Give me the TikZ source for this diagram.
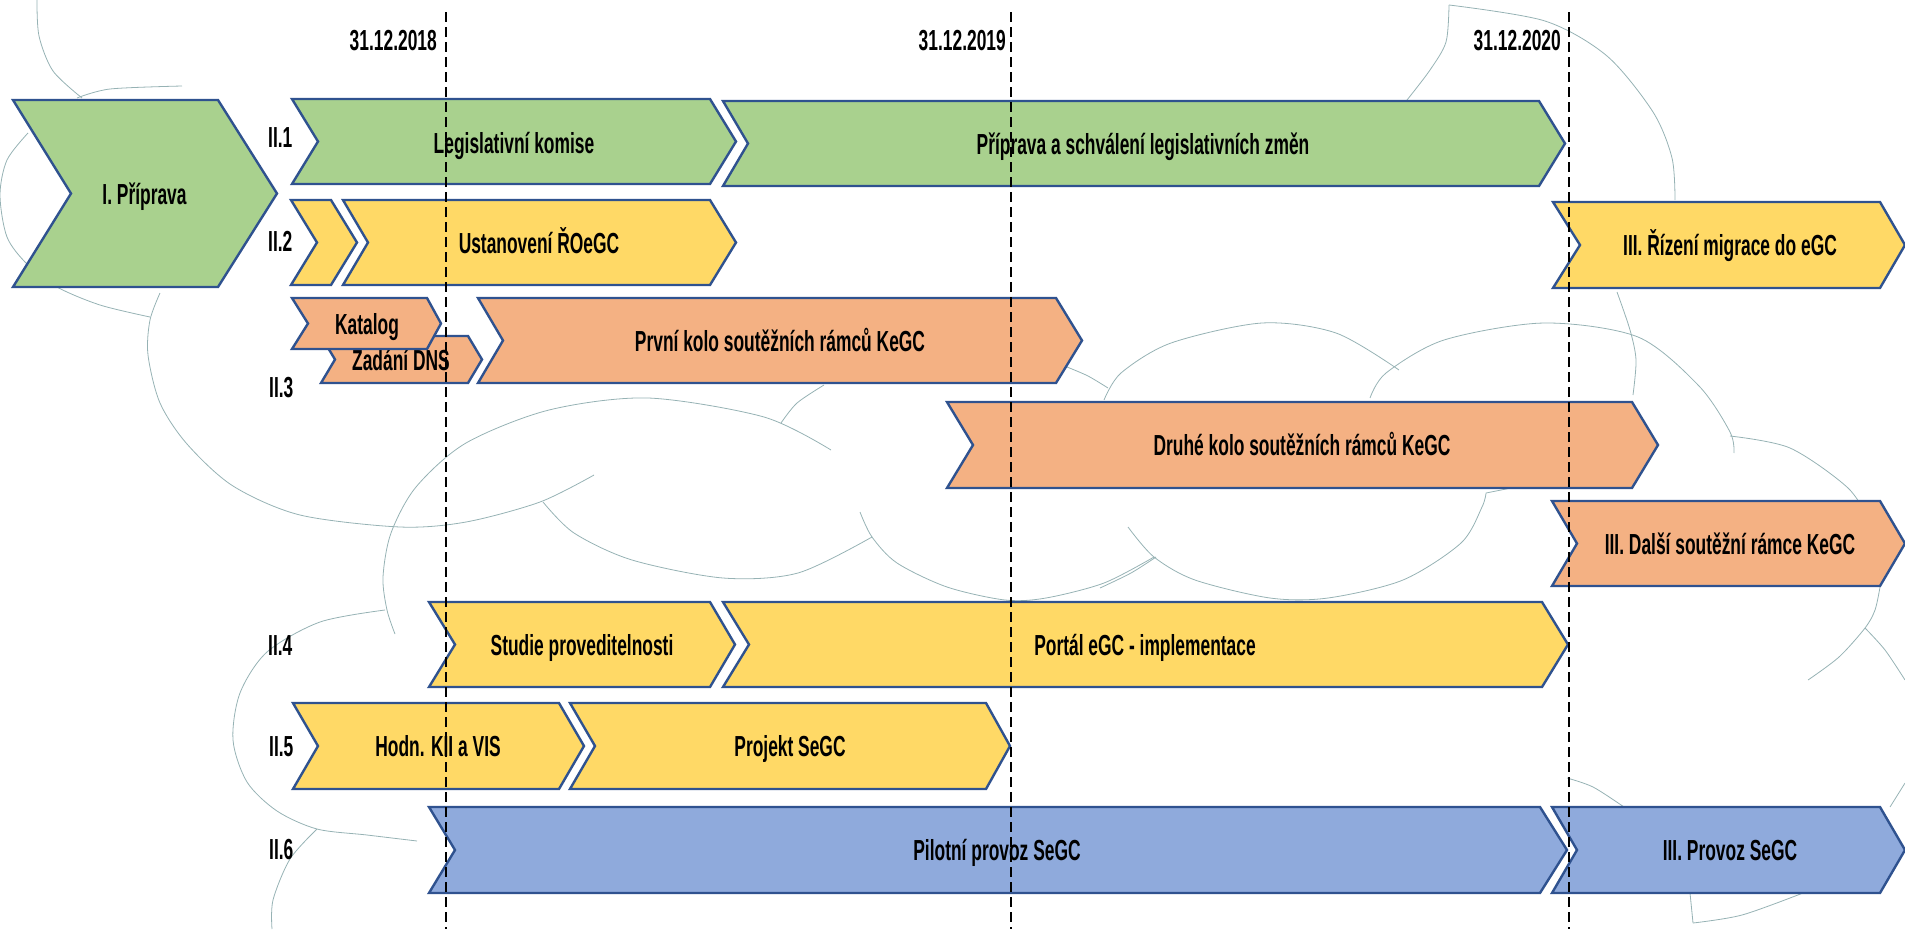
\documentclass[tikz,border=0pt]{standalone}
\usepackage{fontspec}
\setmainfont{Liberation Sans}[FakeStretch=0.6]
\usetikzlibrary{positioning}

\definecolor{phasegreen}{HTML}{A9D18E}
\definecolor{phaseyellow}{HTML}{FFD966}
\definecolor{phaseorange}{HTML}{F4B183}
\definecolor{phaseblue}{HTML}{8FAADC}
\definecolor{edgeblue}{HTML}{2F528F}
\definecolor{cloudgray}{RGB}{150,178,180}

\tikzset{
  chev/.style={draw=edgeblue, line width=2.4pt, line join=miter},
  lbl/.style={font=\fontsize{29}{30}\selectfont\bfseries, text height=21pt, text depth=0pt, inner sep=0pt},
  cloudline/.style={draw=cloudgray, line width=0.8pt},
  deadline/.style={line width=2pt, dash pattern=on 10pt off 5pt}
}

\begin{document}
\begin{tikzpicture}[x=1pt,y=-1pt]
  \useasboundingbox (0,0) rectangle (1905,929);

  % cloud in the background
  \draw[cloudline] plot[smooth] coordinates {(37,0) (39,36) (53,71) (82,98)};
  \draw[cloudline] plot[smooth] coordinates {(77,98) (110,89) (182,86)};
  \draw[cloudline] plot[smooth] coordinates {(28,133) (7,160) (0,195) (7,237) (27,264) (57,287) (100,305) (150,317)};
  \draw[cloudline] plot[smooth] coordinates {(160,293) (150,320) (148,355) (160,403) (187,444) (233,486) (300,515) (400,527) (466,522) (540,502) (594,475)};
  \draw[cloudline] plot[smooth] coordinates {(831,450) (764,417) (648,398) (549,410) (466,443) (416,487) (391,533) (383,577) (387,610) (395,634)};
  \draw[cloudline] plot[smooth] coordinates {(385,610) (320,622) (267,652) (240,693) (233,740) (247,782) (277,811) (317,829) (367,835) (417,841)};
  \draw[cloudline] plot[smooth] coordinates {(317,829) (290,859) (273,900) (272,929)};
  \draw[cloudline] plot[smooth] coordinates {(781,423) (797,403) (824,385)};
  \draw[cloudline] plot[smooth] coordinates {(543,502) (574,533) (632,560) (723,578) (798,573) (872,537)};
  \draw[cloudline] plot[smooth] coordinates {(860,512) (872,537) (897,563) (947,587) (1005,600) (1046,598) (1104,583) (1154,557)};
  \draw[cloudline] plot[smooth] coordinates {(1128,527) (1154,557) (1195,580) (1270,598) (1328,598) (1403,580) (1461,543) (1482,507) (1486,493)};
  \draw[cloudline] plot[smooth] coordinates {(1100,588) (1131,573) (1156,557)};
  \draw[cloudline] (1486,493) -- (1511,488);
  \draw[cloudline] plot[smooth] coordinates {(1067,367) (1088,376) (1108,388)};
  \draw[cloudline] plot[smooth] coordinates {(1104,400) (1121,373) (1171,343) (1262,323) (1336,333) (1399,370)};
  \draw[cloudline] plot[smooth] coordinates {(1370,398) (1386,373) (1444,340) (1544,323) (1638,337) (1699,386) (1730,432) (1734,453)};
  \draw[cloudline] plot[smooth] coordinates {(1730,436) (1790,448) (1848,488) (1872,525)};
  \draw[cloudline] plot[smooth] coordinates {(1617,292) (1630,330) (1636,360) (1633,395)};
  \draw[cloudline] plot[smooth] coordinates {(1880,587) (1875,610) (1865,628) (1839,657) (1808,680)};
  \draw[cloudline] plot[smooth] coordinates {(1865,628) (1885,650) (1905,680)};
  \draw[cloudline] plot[smooth] coordinates {(1449,5) (1446,42) (1430,70) (1407,100)};
  \draw[cloudline] plot[smooth] coordinates {(1449,5) (1545,21) (1607,56) (1653,112) (1672,158) (1675,200)};
  \draw[cloudline] plot[smooth] coordinates {(1567,778) (1593,787) (1624,807)};
  \draw[cloudline] (1905,783) -- (1890,807);
  \draw[cloudline] (1690,893) -- (1693,923);
  \draw[cloudline] plot[smooth] coordinates {(1693,923) (1742,915) (1803,893)};

  % I.
  \filldraw[chev, fill=phasegreen] (13,100) -- (218,100) -- (277,193.5) -- (218,287) -- (13,287) -- (71,193.5) -- cycle;
  \node[lbl] (priprava) at (144.5,193.5) {I. Příprava};

  % II.1
  \filldraw[chev, fill=phasegreen] (292,99) -- (710,99) -- (736,141.5) -- (710,184) -- (292,184) -- (318,141.5) -- cycle;
  \node[lbl] (komise) at (514,142.5) {Legislativní komise};
  \filldraw[chev, fill=phasegreen] (723,101) -- (1539,101) -- (1565,143.5) -- (1539,186) -- (723,186) -- (748,143.5) -- cycle;
  \node[lbl] (zmeny) at (1143,143.5) {Příprava a schválení legislativních změn};

  % II.2
  \filldraw[chev, fill=phaseyellow] (291,200) -- (331,200) -- (357,242.5) -- (331,285) -- (291,285) -- (317,242.5) -- cycle;
  \filldraw[chev, fill=phaseyellow] (343,200) -- (710,200) -- (736,242.5) -- (710,285) -- (343,285) -- (368,242.5) -- cycle;
  \node[lbl] (roegc) at (539,242.5) {Ustanovení ŘOeGC};
  \filldraw[chev, fill=phaseyellow] (1553,202) -- (1880,202) -- (1905,245) -- (1880,288) -- (1553,288) -- (1580,245) -- cycle;
  \node[lbl] (migrace) at (1730,245) {III. Řízení migrace do eGC};

  % II.3
  \filldraw[chev, fill=phaseorange] (321,336) -- (468,336) -- (482,359.5) -- (468,383) -- (321,383) -- (335,359.5) -- cycle;
  \node[lbl] (dns) at (401,359.5) {Zadání DNS};
  \filldraw[chev, fill=phaseorange] (292,298) -- (427,298) -- (441,323.5) -- (427,349) -- (292,349) -- (308,323.5) -- cycle;
  \node[lbl] (katalog) at (367,324) {Katalog};
  \filldraw[chev, fill=phaseorange] (478,298) -- (1056,298) -- (1082,340.5) -- (1056,383) -- (478,383) -- (503,340.5) -- cycle;
  \node[lbl] (kolo1) at (780,340.5) {První kolo soutěžních rámců KeGC};
  \filldraw[chev, fill=phaseorange] (947,402) -- (1632,402) -- (1658,445) -- (1632,488) -- (947,488) -- (973,445) -- cycle;
  \node[lbl] (kolo2) at (1302,445) {Druhé kolo soutěžních rámců KeGC};
  \filldraw[chev, fill=phaseorange] (1552,501) -- (1880,501) -- (1905,543.5) -- (1880,586) -- (1552,586) -- (1577,543.5) -- cycle;
  \node[lbl] (ramce) at (1730,543.5) {III. Další soutěžní rámce KeGC};

  % II.4
  \filldraw[chev, fill=phaseyellow] (429,602) -- (710,602) -- (735,644.5) -- (710,687) -- (429,687) -- (455,644.5) -- cycle;
  \node[lbl] (studie) at (582,644.5) {Studie proveditelnosti};
  \filldraw[chev, fill=phaseyellow] (723,602) -- (1542,602) -- (1568,644.5) -- (1542,687) -- (723,687) -- (749,644.5) -- cycle;
  \node[lbl] (portal) at (1145,644.5) {Portál eGC - implementace};

  % II.5
  \filldraw[chev, fill=phaseyellow] (293,703) -- (559,703) -- (584,746) -- (559,789) -- (293,789) -- (318,746) -- cycle;
  \node[lbl] (hodn) at (438,746) {Hodn. KII a VIS};
  \filldraw[chev, fill=phaseyellow] (570,703) -- (986,703) -- (1010,746) -- (986,789) -- (570,789) -- (595,746) -- cycle;
  \node[lbl] (projekt) at (790,746) {Projekt SeGC};

  % II.6
  \filldraw[chev, fill=phaseblue] (429,807) -- (1540,807) -- (1567,850) -- (1540,893) -- (429,893) -- (455,850) -- cycle;
  \node[lbl] (pilot) at (997,850) {Pilotní provoz SeGC};
  \filldraw[chev, fill=phaseblue] (1552,807) -- (1880,807) -- (1905,850) -- (1880,893) -- (1552,893) -- (1577,850) -- cycle;
  \node[lbl] (provoz) at (1730,850) {III. Provoz SeGC};

  % row labels
  \node[lbl, anchor=west] (r1) at (268,137) {II.1};
  \node[lbl, anchor=west] (r2) at (268,241) {II.2};
  \node[lbl, anchor=west] (r3) at (269,387) {II.3};
  \node[lbl, anchor=west] (r4) at (268,645) {II.4};
  \node[lbl, anchor=west] (r5) at (269,746) {II.5};
  \node[lbl, anchor=west] (r6) at (269,849) {II.6};

  % deadlines
  \coordinate (d18) at (446,12);
  \coordinate (d19) at (1011,12);
  \coordinate (d20) at (1569,12);
  \node[lbl, anchor=east] (t18) at (437,40) {31.12.2018};
  \node[lbl, anchor=east] (t19) at (1006,40) {31.12.2019};
  \node[lbl, anchor=east] (t20) at (1561,40) {31.12.2020};
  \draw[deadline] (d18) -- (d18 |- 0,929);
  \draw[deadline] (d19) -- (d19 |- 0,929);
  \draw[deadline] (d20) -- (d20 |- 0,929);
\end{tikzpicture}
\end{document}
